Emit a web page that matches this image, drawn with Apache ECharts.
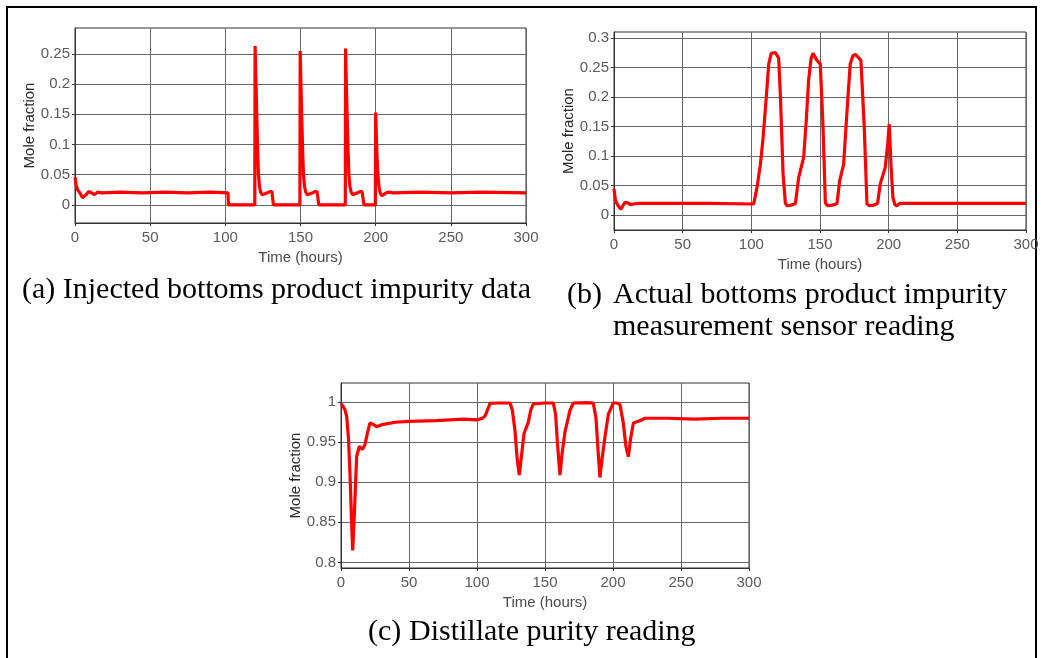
<!DOCTYPE html>
<html><head><meta charset="utf-8">
<script src="https://cdn.jsdelivr.net/npm/echarts@6/dist/echarts.min.js"></script>
<style>html,body{margin:0;padding:0;background:#fff;}#c{width:1043px;height:658px;}</style>
</head><body><div id="c"></div>
<script>
// ---- tick labels ----
const xTicks = [0, 50, 100, 150, 200, 250, 300];
const yTicksA = [0, 0.05, 0.1, 0.15, 0.2, 0.25];
const yTicksB = [0, 0.05, 0.1, 0.15, 0.2, 0.25, 0.3];
const yTicksC = [0.8, 0.85, 0.9, 0.95, 1];

// ---- (a) injected bottoms product impurity ----
const timeA = [0,0.8,2,3.5,5,6,7.5,9,11,13,15,18,30,45,60,75,90,101.8,102,119.6,119.8,120.4,121,121.5,122,122.7,123.5,124.5,126,128,129.5,131,131.8,132,149.6,149.8,150.4,151,151.5,152,152.7,153.5,154.5,156,158,159.5,161,162,162.2,179.8,180,180.6,181.2,181.7,182.2,182.9,183.7,184.7,186,188,189.5,191,192,192.2,199.8,200,200.5,201,201.5,202.2,203,204,205,206.5,208,212,230,250,270,300];
const valueA = [0.046,0.032,0.024,0.019,0.012,0.010,0.017,0.022,0.020,0.017,0.021,0.020,0.021,0.020,0.021,0.020,0.021,0.020,0,0,0.263,0.20,0.14,0.09,0.052,0.031,0.021,0.017,0.018,0.020,0.022,0.022,0.021,0,0,0.255,0.19,0.13,0.085,0.05,0.03,0.021,0.017,0.018,0.020,0.022,0.022,0.021,0,0,0.259,0.19,0.13,0.085,0.05,0.03,0.021,0.017,0.018,0.020,0.022,0.022,0.021,0,0,0.153,0.11,0.075,0.05,0.03,0.02,0.015,0.016,0.019,0.021,0.020,0.021,0.020,0.021,0.020];

// ---- (b) actual bottoms product impurity sensor ----
const timeB = [0,1,3,5,6,8,10,12,14,18,40,70,101.7,104,106.6,108.5,110.3,112.7,114.5,115.6,117.5,119.9,121.2,123.1,124.8,126,129,132.1,134.5,138.1,140,141.7,143.5,144.9,147.8,150.2,152.2,153.9,155.5,159,162.4,164.3,167.2,169.5,172,174,175.7,177.5,179.8,182.2,184.2,186,189,191.9,193.9,197.5,199.3,200.4,201.8,203.1,204.5,206,208,230,260,300];
const valueB = [0.045,0.025,0.016,0.010,0.012,0.022,0.021,0.018,0.019,0.020,0.020,0.020,0.019,0.045,0.086,0.13,0.182,0.256,0.274,0.277,0.275,0.266,0.20,0.07,0.02,0.016,0.017,0.020,0.064,0.098,0.16,0.228,0.265,0.274,0.262,0.256,0.15,0.021,0.016,0.017,0.020,0.058,0.086,0.17,0.256,0.27,0.272,0.268,0.262,0.15,0.019,0.016,0.017,0.020,0.053,0.081,0.12,0.154,0.08,0.030,0.018,0.016,0.020,0.020,0.020,0.020];

// ---- (c) distillate purity ----
const timeC = [0,1.5,3,4.2,5.5,6.6,7.8,8.6,9.8,11.5,13.5,15.7,17.6,19.5,21.3,24,26.2,30,40,50,70,90,100,104,106,109.6,115,124.3,126,127.9,129.5,131.1,132.5,134.6,137.7,139.5,141.4,150,156.1,157.8,159.1,161,162.5,164.7,168.4,170.8,180,185.5,187.5,189,190.4,192,194.1,196.6,200.2,203,205.1,207.5,209.5,211.3,213,215,218,220,223.5,240,260,280,300];
const valueC = [0.998,0.995,0.990,0.982,0.955,0.911,0.85,0.815,0.86,0.932,0.945,0.941,0.947,0.962,0.974,0.972,0.9695,0.972,0.975,0.976,0.977,0.979,0.978,0.980,0.983,0.9986,0.999,0.999,0.99,0.965,0.93,0.909,0.93,0.961,0.975,0.99,0.998,0.999,0.999,0.985,0.95,0.909,0.935,0.963,0.99,0.999,0.9995,0.999,0.98,0.94,0.906,0.93,0.957,0.985,0.999,0.999,0.997,0.975,0.945,0.932,0.955,0.974,0.976,0.977,0.98,0.98,0.979,0.98,0.98];

const zip = (t, v) => t.map((x, i) => [x, v[i]]);
const SANS = '"Liberation Sans", Arial, sans-serif';
const SERIF = '"Liberation Serif", "Times New Roman", serif';

function xAx(gi) {
  return {
    type: 'value', gridIndex: gi, min: 0, max: 300, interval: 50,
    name: 'Time (hours)', nameLocation: 'middle', nameGap: 27,
    nameTextStyle: { color: '#4a4a4a', fontSize: 15, fontFamily: SANS },
    axisLine: { show: true, onZero: false, lineStyle: { color: '#333', width: 1 } },
    axisTick: { show: true, inside: false, length: 3, lineStyle: { color: '#333' } },
    axisLabel: { color: '#5a5a5a', fontSize: 15, fontFamily: SANS, margin: 7, showMinLabel: true, showMaxLabel: true },
    splitLine: { show: true, lineStyle: { color: '#666666', width: 1 } }
  };
}
function yAx(gi, min, max, ticks, gap) {
  return {
    type: 'value', gridIndex: gi, min: min, max: max,
    name: 'Mole fraction', nameLocation: 'middle', nameGap: gap, nameRotate: 90,
    nameTextStyle: { color: '#262626', fontSize: 15, fontFamily: SANS },
    axisLine: { show: true, onZero: false, lineStyle: { color: '#333', width: 1 } },
    axisTick: { show: true, inside: false, length: 3, customValues: ticks, lineStyle: { color: '#333' } },
    axisLabel: { color: '#5a5a5a', fontSize: 15, fontFamily: SANS, margin: 5, customValues: ticks },
    splitLine: { show: true, lineStyle: { color: '#666666', width: 1 } }
  };
}
function ser(gi, t, v) {
  return {
    type: 'line', xAxisIndex: gi, yAxisIndex: gi, data: zip(t, v),
    showSymbol: false, symbol: 'none', smooth: false,
    lineStyle: { color: '#ff0000', width: 3.2 }, itemStyle: { color: '#ff0000' }
  };
}

const chart = echarts.init(document.getElementById('c'), null, { renderer: 'canvas' });
chart.setOption({
  animation: false,
  backgroundColor: '#ffffff',
  grid: [
    { left: 75, top: 28, width: 451, height: 195, show: true, borderColor: '#333', borderWidth: 1, containLabel: false },
    { left: 614, top: 32, width: 412, height: 198, show: true, borderColor: '#333', borderWidth: 1, containLabel: false },
    { left: 341, top: 383, width: 408, height: 185, show: true, borderColor: '#333', borderWidth: 1, containLabel: false }
  ],
  xAxis: [xAx(0), xAx(1), xAx(2)],
  yAxis: [
    yAx(0, -0.03, 0.293, yTicksA, 34),
    yAx(1, -0.025, 0.31, yTicksB, 28),
    yAx(2, 0.793, 1.024, yTicksC, 30)
  ],
  series: [ser(0, timeA, valueA), ser(1, timeB, valueB), ser(2, timeC, valueC)],
  graphic: [
    { type: 'line', shape: { x1: 7, y1: 7, x2: 1037, y2: 7 }, style: { stroke: '#000', lineWidth: 2 } },
    { type: 'line', shape: { x1: 7, y1: 6, x2: 7, y2: 658 }, style: { stroke: '#000', lineWidth: 2 } },
    { type: 'line', shape: { x1: 1036, y1: 6, x2: 1036, y2: 658 }, style: { stroke: '#000', lineWidth: 2 } },
    { type: 'text', x: 22, y: 290, style: { text: '(a) Injected bottoms product impurity data', font: '30px ' + SERIF, fill: '#000', align: 'left', verticalAlign: 'middle' } },
    { type: 'text', x: 567, y: 295, style: { text: '(b)', font: '30px ' + SERIF, fill: '#000', align: 'left', verticalAlign: 'middle' } },
    { type: 'text', x: 613, y: 295, style: { text: 'Actual bottoms product impurity', font: '30px ' + SERIF, fill: '#000', align: 'left', verticalAlign: 'middle' } },
    { type: 'text', x: 613, y: 327, style: { text: 'measurement sensor reading', font: '30px ' + SERIF, fill: '#000', align: 'left', verticalAlign: 'middle' } },
    { type: 'text', x: 368, y: 632, style: { text: '(c)', font: '30px ' + SERIF, fill: '#000', align: 'left', verticalAlign: 'middle' } },
    { type: 'text', x: 409, y: 632, style: { text: 'Distillate purity reading', font: '30px ' + SERIF, fill: '#000', align: 'left', verticalAlign: 'middle' } }
  ]
});
</script>
</body></html>
